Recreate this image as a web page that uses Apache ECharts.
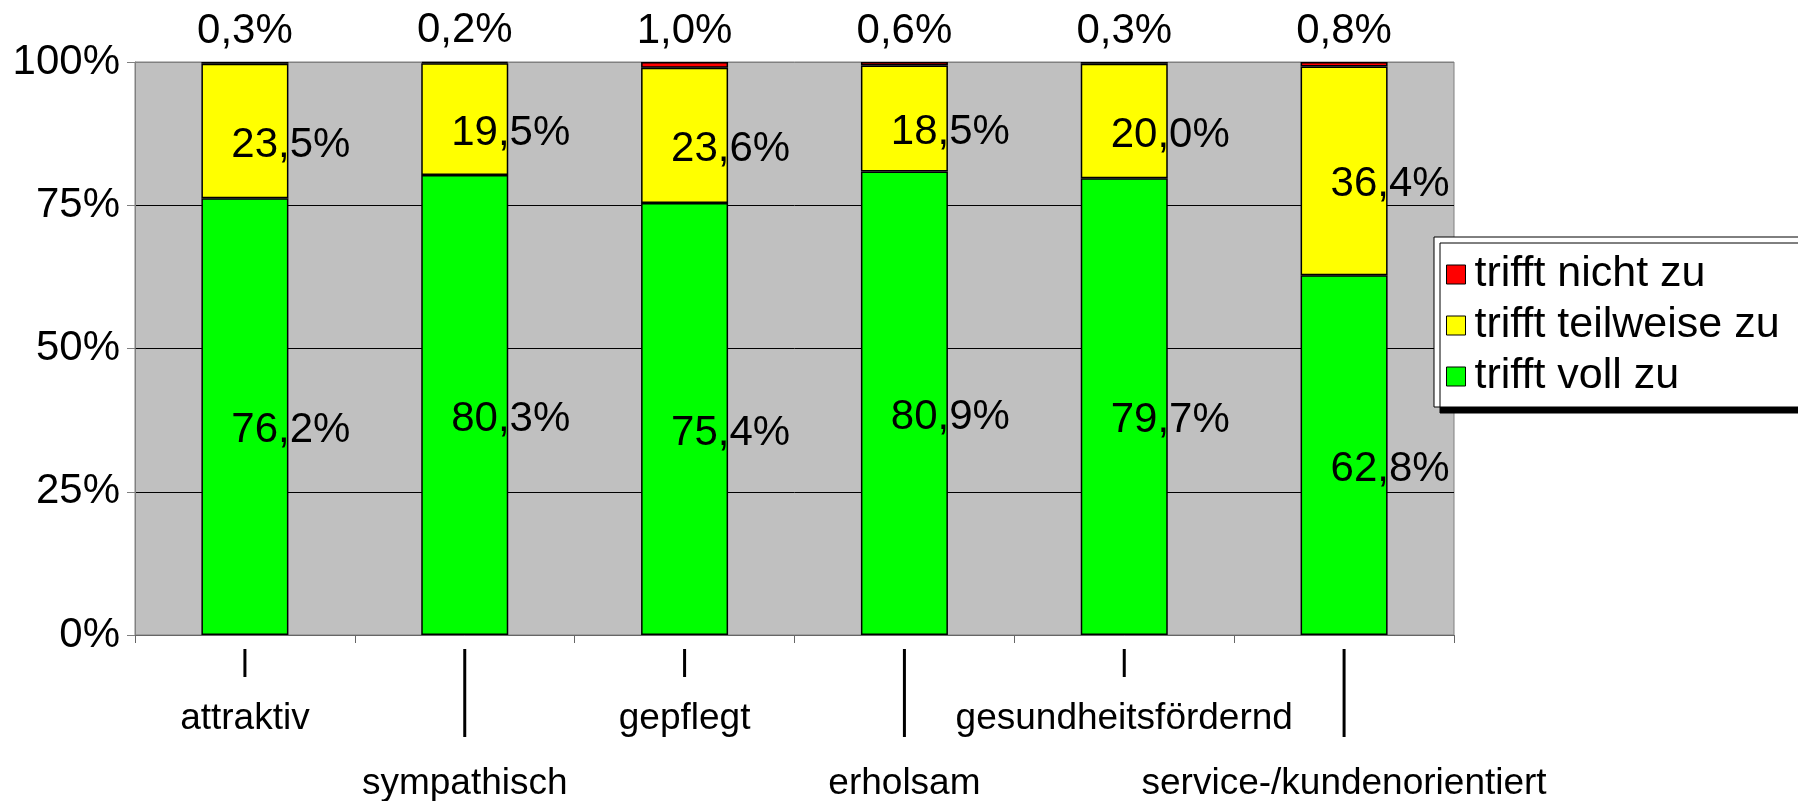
<!DOCTYPE html>
<html><head><meta charset="utf-8">
<script src="https://cdn.jsdelivr.net/npm/echarts@6/dist/echarts.min.js"></script>
<style>html,body{margin:0;padding:0;background:#fff}#c{width:1798px;height:801px}</style>
</head><body><div id="c"></div>
<script>
var categories = ['attraktiv','sympathisch','gepflegt','erholsam','gesundheitsfördernd','service-/kundenorientiert'];
var trifftVoll = [76.2, 80.3, 75.4, 80.9, 79.7, 62.8];
var trifftTeilweise = [23.5, 19.5, 23.6, 18.5, 20.0, 36.4];
var trifftNicht = [0.3, 0.2, 1.0, 0.6, 0.3, 0.8];
var yTicks = [0, 25, 50, 75, 100];

var FONT = 'Liberation Sans, Arial, sans-serif';
var FS = 42;
var XFS = 37;
function fmt(v){ return v.toFixed(1).replace('.', ',') + '%'; }

var chart = echarts.init(document.getElementById('c'), null, {renderer:'canvas'});
var inLabel = {show:true, position:'inside', offset:[46,14], color:'#000', fontFamily:FONT, fontSize:FS,
  formatter:function(p){return fmt(p.value);}};
chart.setOption({
  animation:false,
  backgroundColor:'#fff',
  textStyle:{fontFamily:FONT},
  grid:{left:135, right:344, top:62, bottom:166, show:true, backgroundColor:'#C0C0C0', borderColor:'#808080', borderWidth:1,
        containLabel:false, outerBoundsMode:'none'},
  legend:{
    orient:'vertical', left:1434, top:237,
    data:['trifft nicht zu','trifft teilweise zu','trifft voll zu'],
    icon:'rect', itemWidth:19, itemHeight:19, itemGap:8,
    backgroundColor:'#fff', borderColor:'#000', borderWidth:1,
    shadowColor:'#000', shadowOffsetX:6, shadowOffsetY:6, shadowBlur:0,
    padding:[16,80,9,12],
    textStyle:{fontFamily:FONT, fontSize:43, color:'#000', padding:[0,0,0,4]},
    itemStyle:{borderColor:'#000', borderWidth:1}
  },
  xAxis:{
    type:'category', data:categories,
    axisLine:{lineStyle:{color:'#666', width:1}},
    axisTick:{show:true, length:8, lineStyle:{color:'#666'}},
    axisLabel:{
      interval:0, margin:14, color:'#000', fontFamily:FONT,
      formatter:function(v, i){
        return i % 2 === 0 ? '{ls|}\n{g1|}\n{n|' + v + '}' : '{ll|}\n{g2|}\n{n|' + v + '}';
      },
      rich:{
        ls:{width:3, height:28, backgroundColor:'#000'},
        ll:{width:3, height:88, backgroundColor:'#000'},
        g1:{height:21, lineHeight:21},
        g2:{height:26, lineHeight:26},
        n:{fontSize:XFS, fontFamily:FONT, color:'#000', lineHeight:42}
      }
    }
  },
  yAxis:{
    type:'value', min:0, max:100, interval:25,
    axisLine:{show:true, lineStyle:{color:'#808080'}},
    axisTick:{show:true, length:8, lineStyle:{color:'#808080'}},
    axisLabel:{margin:15, color:'#000', fontFamily:FONT, fontSize:FS, padding:[7,0,0,0],
      formatter:function(v){ return yTicks.indexOf(v) >= 0 ? v + '%' : ''; }},
    splitLine:{show:true, lineStyle:{color:['#808080','#000','#000','#000','#808080'], width:1}}
  },
  series:[
    {name:'trifft voll zu', type:'bar', stack:'s', data:trifftVoll, barWidth:87,
     itemStyle:{color:'#00FF00', borderColor:'#000', borderWidth:1.5}, label:inLabel},
    {name:'trifft teilweise zu', type:'bar', stack:'s', data:trifftTeilweise,
     itemStyle:{color:'#FFFF00', borderColor:'#000', borderWidth:1.5}, label:inLabel},
    {name:'trifft nicht zu', type:'bar', stack:'s', data:trifftNicht,
     itemStyle:{color:'#FF0000', borderColor:'#000', borderWidth:1.5},
     label:{show:true, position:'top', distance:10, color:'#000', fontFamily:FONT, fontSize:FS,
       formatter:function(p){return fmt(p.value);}}}
  ]
});
</script></body></html>
